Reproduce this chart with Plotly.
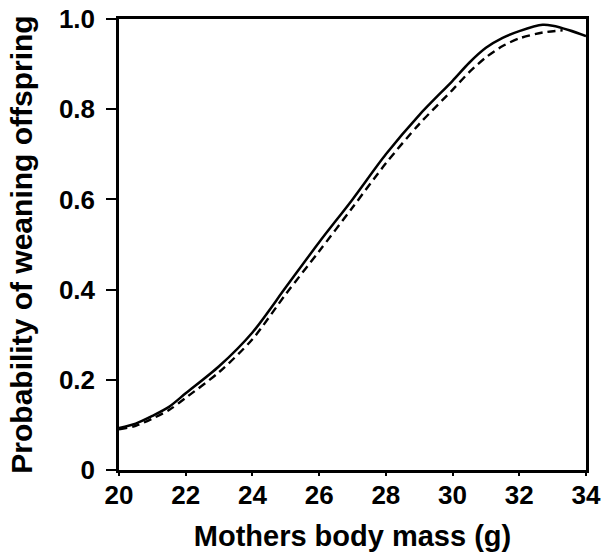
import plotly.graph_objects as go

# Data
mass_solid = [20, 20.5, 21, 21.5, 22, 23, 24, 25, 26, 27, 28, 29, 30, 30.5, 31, 31.5, 32, 32.7, 33, 33.5, 34]
prob_solid = [0.093, 0.103, 0.120, 0.140, 0.170, 0.230, 0.305, 0.405, 0.505, 0.600, 0.700, 0.787,
              0.863, 0.903, 0.936, 0.958, 0.973, 0.987, 0.985, 0.975, 0.962]

mass_dashed = [20, 20.5, 21, 21.5, 22, 23, 24, 25, 26, 27, 28, 29, 30, 30.5, 31, 31.5, 32, 32.7, 33.3]
prob_dashed = [0.090, 0.098, 0.114, 0.133, 0.160, 0.217, 0.290, 0.390, 0.485, 0.582, 0.680, 0.767,
               0.843, 0.882, 0.915, 0.940, 0.957, 0.970, 0.975]

x_ticks = [20, 22, 24, 26, 28, 30, 32, 34]
y_ticks = [0, 0.2, 0.4, 0.6, 0.8, 1.0]
y_tick_text = ["0", "0.2", "0.4", "0.6", "0.8", "1.0"]

FONT = "Liberation Sans, Arial, sans-serif"

fig = go.Figure()
fig.add_trace(go.Scatter(x=mass_solid, y=prob_solid, mode="lines",
                         line=dict(color="black", width=2.5, shape="spline", smoothing=0.8),
                         showlegend=False, hoverinfo="skip"))
fig.add_trace(go.Scatter(x=mass_dashed, y=prob_dashed, mode="lines",
                         line=dict(color="black", width=2.4, dash="8px,5px", shape="spline", smoothing=0.8),
                         showlegend=False, hoverinfo="skip"))

fig.update_layout(
    width=613, height=552,
    margin=dict(l=119, r=27, t=19, b=82),
    paper_bgcolor="white", plot_bgcolor="white",
    font=dict(family=FONT, color="black"),
)
fig.update_xaxes(
    range=[20, 34], tickvals=x_ticks, ticktext=[str(v) for v in x_ticks],
    showgrid=False, zeroline=False,
    showline=True, linecolor="black", linewidth=2.5, mirror=True,
    ticks="outside", ticklen=3, tickwidth=2, tickcolor="black",
    tickfont=dict(family=FONT, size=26, color="black", weight="bold"),
    ticklabelstandoff=-3,
    title=dict(text="<b>Mothers body mass (g)</b>", font=dict(family=FONT, size=29, color="black"), standoff=17),
    automargin=False,
)
fig.update_yaxes(
    range=[0, 1.0], tickvals=y_ticks, ticktext=y_tick_text,
    showgrid=False, zeroline=False,
    showline=True, linecolor="black", linewidth=2.5, mirror=True,
    ticks="outside", ticklen=10, tickwidth=2, tickcolor="black",
    tickfont=dict(family=FONT, size=26, color="black", weight="bold"),
    ticklabelstandoff=6,
    title=dict(text="<b>Probability of weaning offspring</b>", font=dict(family=FONT, size=30, color="black"), standoff=18),
    automargin=False,
)

fig.write_html("out.html", config={"displayModeBar": False},
               post_script="document.body.style.margin='0';document.body.style.overflow='hidden';")
